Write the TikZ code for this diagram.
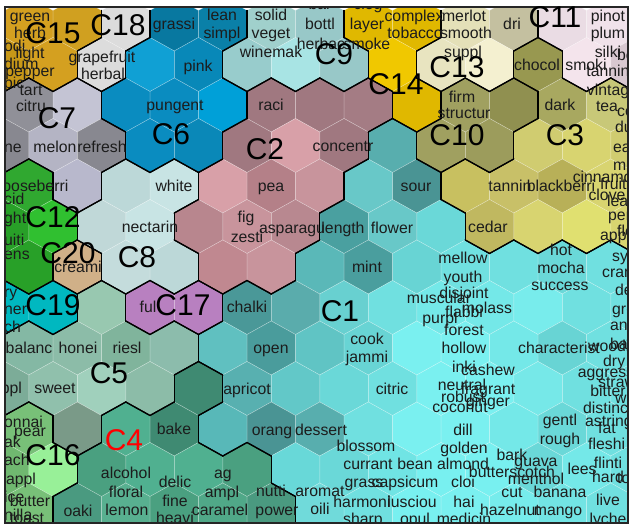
\documentclass[tikz,border=0pt]{standalone}
\usepackage{fontspec}
\setmainfont{Liberation Sans}
\newcommand\rowdef[3]{%
  \foreach \v [count=\k from 0] in {#2} {\expandafter\xdef\csname cl#1-\k\endcsname{\v}}%
  \foreach \v [count=\k from 0] in {#3} {\expandafter\xdef\csname hc#1-\k\endcsname{\v}}%
}
\rowdef{0}{15,15,15,18,6,6,9,9,14,14,13,13,11,11}{D0A020,D4A020,D0A020,DCDCDC,0878A0,0A80A8,A0D0CC,98C8C8,E0B800,E0B800,E4E0B8,C4C0A0,EADCE4,F0E2EA}
\rowdef{1}{15,15,18,6,6,9,9,9,14,13,13,3,11,11}{C89818,D4A020,DCDCDC,10A0D4,0888B8,98CCCC,A8E4E4,98C8C8,F0C800,E8E4C0,F4F0D0,989850,F4E4EC,D8C8D0}
\rowdef{2}{7,7,7,6,6,6,2,2,2,14,10,10,3,3}{909098,909098,C4C4D4,0A8CC0,0A8CC0,00A0D8,A07880,A07880,A47C84,E0B800,A0A060,909050,A8A860,C8C878}
\rowdef{3}{7,7,7,6,6,2,2,2,1,10,10,3,3,3}{888890,B4B4C4,888890,0A8CC0,0A88B8,A07880,D8A0A8,A07880,58AEAE,A0A060,9C9C5C,D0CC70,D8D470,D0CC70}
\rowdef{4}{12,12,7,8,8,2,2,2,1,1,3,3,3,3}{28A028,30A830,B8B8CC,BCD8D8,C8E4E4,D8A0A8,B48088,C8949C,68C8C8,4A9494,C8C060,C8C068,B8B058,D8D470}
\rowdef{5}{12,12,8,8,2,2,2,1,1,1,3,3,3,3}{28A028,30C030,C0D8D8,C8E4E4,B8868E,C8949C,B88890,4AA0A0,68C8C8,6AD8D8,C0B860,D8D470,E0E070,D8D470}
\rowdef{6}{12,12,20,8,8,2,2,1,1,1,1,1,1,1}{28A028,28A028,D0B088,C4DCDC,BCD8D8,C08890,C8949C,5AB8B8,4A9E9E,68D4D4,70E0E0,70E0E0,6AD8D8,70E0E0}
\rowdef{7}{19,19,5,17,17,1,1,1,1,1,1,1,1,1}{00B8C0,00B8C0,98C8B0,B880C0,B880C0,4A9898,5AACAC,68D0D0,70E0E0,74E8E8,74E8E8,78ECEC,70E0E0,70E0E0}
\rowdef{8}{5,5,5,5,5,1,1,1,1,1,1,1,1,1}{80B4A0,84B8A4,8CBCA8,80B49C,8CBCAC,60C0C0,4A9C9C,60C4C4,68D4D4,7AF0F0,7AF0F0,74E8E8,68D4D4,70E0E0}
\rowdef{9}{5,5,5,5,4,1,1,1,1,1,1,1,1,1}{7CAC98,90C0AC,A0D0BC,8CBCA8,3F8A72,58B0B0,62C8C8,6AD8D8,70E0E0,7AF0F0,7AF0F0,76E8E8,70E0E0,70E0E0}
\rowdef{10}{16,16,5,4,4,1,1,1,1,1,1,1,1,1}{70B870,78C078,7A9A88,50B090,3F8A72,58B8B8,4A9494,58AEAE,70E0E0,7AF0F0,7AF0F0,74E8E8,6AD8D8,70E0E0}
\rowdef{11}{16,16,4,4,4,4,1,1,1,1,1,1,1,1}{70B870,98F098,4AA080,50B090,50B090,4AA080,68D8D8,6AD8D8,70E4E4,78F0F0,78F0F0,6AD8D8,74E8E8,70E0E0}
\rowdef{12}{16,16,4,4,4,4,4,1,1,1,1,1,1,1}{70B870,78C078,4A9A80,58B090,4AA080,50A888,4A9A80,70DADA,70E0E0,78F0F0,7AF0F0,76ECEC,72E4E4,70E0E0}
\newcommand\chk[3]{%
  \ifcsname cl#1-#2\endcsname
    \edef\other{\csname cl#1-#2\endcsname}%
    \ifx\me\other\else\draw[border] #3;\fi
  \fi}
\newcounter{wc}
\newcommand\wrd[3]{\stepcounter{wc}\node[wtxt] (w\thewc) at (#1,#2) {#3};}
\newcommand\wrdl[3]{\stepcounter{wc}\node[wtxt,anchor=west] (w\thewc) at (#1,#2) {#3};}
\definecolor{txt}{HTML}{1C1C1C}
\begin{document}
\begin{tikzpicture}[x=1pt,y=-1pt,
  border/.style={line width=1.2pt,black,line cap=round,line join=round},
  thin/.style={line width=0.5pt,white,opacity=0.35},
  wtxt/.style={font=\fontsize{15.8}{18}\selectfont,inner sep=0pt,text height=11.4pt,text depth=0pt,text=txt},
  lab/.style={font=\fontsize{30}{32}\selectfont,inner sep=0pt,text height=21.5pt,text depth=0pt,text=black}]
\useasboundingbox (0,0) rectangle (630,526);
\fill[white] (0,0) rectangle (630,526);
\begin{scope}
\clip (5,7) rectangle (628,523);
\foreach \ri in {0,...,12} {
  \foreach \ci in {0,...,13} {
    \ifodd\ri \def\xo{4.5}\else\def\xo{-19.75}\fi
    \pgfmathsetmacro\xx{\xo+48.5*\ci}
    \pgfmathsetmacro\yy{24+40.5*\ri}
    \edef\tmpc{\csname hc\ri-\ci\endcsname}
    \definecolor{tmpc}{HTML}{\tmpc}
    \begin{scope}[shift={(\xx,\yy)}]
      \fill[tmpc] (0,-27) -- (24.25,-13.5) -- (24.25,13.5) -- (0,27) -- (-24.25,13.5) -- (-24.25,-13.5) -- cycle;
      \draw[thin] (0,-27) -- (24.25,-13.5) -- (24.25,13.5) -- (0,27) -- (-24.25,13.5) -- (-24.25,-13.5) -- cycle;
    \end{scope}
  }
}
\foreach \ri in {0,...,12} {
  \foreach \ci in {0,...,13} {
    \ifodd\ri \def\xo{4.5}\def\off{1}\else\def\xo{-19.75}\def\off{0}\fi
    \pgfmathsetmacro\xx{\xo+48.5*\ci}
    \pgfmathsetmacro\yy{24+40.5*\ri}
    \edef\me{\csname cl\ri-\ci\endcsname}
    \pgfmathtruncatemacro\cNE{\ci+\off}
    \pgfmathtruncatemacro\cNW{\ci+\off-1}
    \pgfmathtruncatemacro\ru{\ri-1}
    \pgfmathtruncatemacro\rd{\ri+1}
    \pgfmathtruncatemacro\cE{\ci+1}
    \pgfmathtruncatemacro\cW{\ci-1}
    \begin{scope}[shift={(\xx,\yy)}]
      \chk{\ri}{\cE}{(24.25,-13.5) -- (24.25,13.5)}
      \chk{\ri}{\cW}{(-24.25,-13.5) -- (-24.25,13.5)}
      \chk{\ru}{\cNE}{(0,-27) -- (24.25,-13.5)}
      \chk{\ru}{\cNW}{(0,-27) -- (-24.25,-13.5)}
      \chk{\rd}{\cNE}{(0,27) -- (24.25,13.5)}
      \chk{\rd}{\cNW}{(0,27) -- (-24.25,13.5)}
    \end{scope}
  }
}
% words
\wrd{30}{16}{green}
\wrd{30}{33}{herb}
\wrdl{4}{46}{odi}
\wrd{30}{53}{light}
\wrdl{4}{64}{dium}
\wrd{30}{71}{pepper}
\wrdl{4}{83}{pic}
\wrd{102}{57}{grapefruit}
\wrd{103}{74}{herbal}
\wrd{174}{24}{grassi}
\wrd{222}{15}{lean}
\wrd{222}{33}{simpl}
\wrd{198}{66}{pink}
\wrd{271}{15}{solid}
\wrd{271}{33}{veget}
\wrd{320}{4}{bar}
\wrd{320}{24}{bottl}
\wrd{368}{4}{clog}
\wrd{367}{24}{layer}
\wrd{414}{16}{complex}
\wrd{415}{33}{tobacco}
\wrd{464}{16}{merlot}
\wrd{466}{33}{smooth}
\wrd{512}{24}{dri}
\wrd{608}{16}{pinot}
\wrd{608}{33}{plum}
\wrd{271}{52}{winemak}
\wrd{321}{44}{herbac}
\wrd{367}{44}{smoke}
\wrd{463}{52}{suppl}
\wrd{537}{65}{chocol}
\wrd{586}{65}{smoki}
\wrd{608}{52}{silki}
\wrd{608}{71}{tannin}
\wrdl{617}{55}{be}
\wrd{271}{105}{raci}
\wrd{175}{105}{pungent}
\wrd{462}{97}{firm}
\wrd{464}{113}{structur}
\wrd{560}{105}{dark}
\wrd{608}{90}{vintag}
\wrd{607}{106}{tea}
\wrdl{617}{111}{co}
\wrd{31}{90}{tart}
\wrd{31}{106}{citru}
\wrdl{4}{147}{ne}
\wrd{55}{147}{melon}
\wrd{102}{147}{refresh}
\wrd{343}{146}{concentr}
\wrdl{615}{127}{du}
\wrdl{613}{147}{ea}
\wrdl{613}{165}{me}
\wrd{31}{186}{gooseberri}
\wrdl{4}{199}{cid}
\wrdl{4}{218}{ght}
\wrdl{4}{240}{uiti}
\wrdl{4}{254}{ens}
\wrd{174}{186}{white}
\wrd{271}{186}{pea}
\wrd{416}{186}{sour}
\wrd{510}{186}{tannin}
\wrd{561}{186}{blackberri}
\wrd{607}{177}{cinnamon}
\wrd{607}{195}{clove}
\wrdl{600}{184}{fruit}
\wrdl{607}{201}{lea}
\wrd{150}{227}{nectarin}
\wrd{246}{217}{fig}
\wrd{247}{237}{zesti}
\wrd{292}{228}{asparagu}
\wrd{343}{228}{length}
\wrd{392}{228}{flower}
\wrd{488}{227}{cedar}
\wrdl{608}{215}{per}
\wrdl{600}{235}{appr}
\wrdl{617}{231}{fle}
\wrdl{612}{256}{sy}
\wrd{78}{267}{creami}
\wrd{367}{267}{mint}
\wrd{463}{258}{mellow}
\wrd{463}{277}{youth}
\wrd{561}{250}{hot}
\wrd{561}{268}{mocha}
\wrd{560}{285}{success}
\wrdl{602}{272}{cran}
\wrdl{615}{290}{de}
\wrdl{4}{292}{ry}
\wrdl{4}{309}{ner}
\wrdl{4}{327}{ch}
\wrd{148}{307}{ful}
\wrd{247}{307}{chalki}
\wrd{439}{298}{muscular}
\wrd{464}{293}{disjoint}
\wrd{487}{308}{molass}
\wrd{464}{312}{flabbi}
\wrd{440}{318}{purpl}
\wrd{464}{330}{forest}
\wrdl{612}{309}{gro}
\wrdl{610}{325}{an}
\wrdl{610}{344}{bas}
\wrd{29}{348}{balanc}
\wrd{78}{348}{honei}
\wrd{127}{348}{riesl}
\wrd{271}{348}{open}
\wrd{367}{339}{cook}
\wrd{367}{357}{jammi}
\wrd{464}{348}{hollow}
\wrd{559}{348}{characterist}
\wrdl{588}{346}{woodi}
\wrd{7}{388}{appl}
\wrd{55}{388}{sweet}
\wrd{247}{389}{apricot}
\wrd{392}{389}{citric}
\wrd{464}{367}{inki}
\wrd{488}{370}{cashew}
\wrd{462}{385}{neutral}
\wrd{488}{389}{fragrant}
\wrd{463}{397}{robust}
\wrd{460}{407}{coconut}
\wrd{488}{401}{ginger}
\wrdl{603}{361}{dry}
\wrd{606}{372}{aggress}
\wrdl{598}{382}{straw}
\wrd{608}{391}{bitter}
\wrdl{615}{398}{wood}
\wrdl{583}{408}{distinct}
\wrdl{4}{422}{onnai}
\wrd{30}{431}{pear}
\wrdl{4}{442}{ak}
\wrd{174}{429}{bake}
\wrd{272}{430}{orang}
\wrd{321}{430}{dessert}
\wrd{463}{430}{dill}
\wrd{560}{420}{gentl}
\wrdl{585}{421}{astring}
\wrd{607}{428}{fat}
\wrd{560}{439}{rough}
\wrdl{588}{444}{fleshi}
\wrd{366}{446}{blossom}
\wrd{464}{448}{golden}
\wrd{512}{455}{bark}
\wrd{536}{461}{guava}
\wrd{368}{464}{currant}
\wrd{415}{464}{bean}
\wrd{463}{464}{almond}
\wrd{582}{469}{lees}
\wrd{608}{463}{flinti}
\wrdl{4}{460}{ach}
\wrd{126}{473}{alcohol}
\wrd{223}{473}{ag}
\wrd{512}{472}{butterscotch}
\wrd{536}{479}{menthol}
\wrd{608}{477}{hard}
\wrdl{617}{478}{tom}
\wrd{364}{482}{grass}
\wrd{405}{482}{capsicum}
\wrd{463}{482}{cloi}
\wrd{175}{482}{delic}
\wrd{126}{492}{floral}
\wrd{222}{492}{ampl}
\wrd{271}{491}{nutti}
\wrd{320}{491}{aromat}
\wrd{512}{492}{cut}
\wrd{560}{492}{banana}
\wrd{21}{479}{appl}
\wrdl{4}{497}{ice}
\wrd{30}{501}{butter}
\wrd{175}{501}{fine}
\wrd{362}{502}{harmoni}
\wrd{412}{502}{lusciou}
\wrd{464}{502}{hai}
\wrd{608}{500}{live}
\wrdl{4}{515}{nilla}
\wrd{27}{518}{toast}
\wrd{78}{511}{oaki}
\wrd{127}{510}{lemon}
\wrd{220}{510}{caramel}
\wrd{277}{510}{power}
\wrd{320}{509}{oili}
\wrd{510}{510}{hazelnut}
\wrd{558}{510}{mango}
\wrd{175}{518}{heavi}
\wrd{363}{519}{sharp}
\wrd{415}{519}{opul}
\wrd{464}{519}{medicin}
\wrd{608}{519}{lyche}
\end{scope}
\draw[line width=1.2pt,black!85] (5,7) rectangle (628,523);
% cluster labels
\node[lab] (C15) at (53,33) {C15};
\node[lab] (C18) at (118,25) {C18};
\node[lab] (C7) at (57,118) {C7};
\node[lab] (C6) at (171,134) {C6};
\node[lab] (C9) at (334,54) {C9};
\node[lab] (C14) at (396,84) {C14};
\node[lab] (C13) at (457,67) {C13};
\node[lab] (C11) at (555,17) {C11};
\node[lab] (C10) at (457,135) {C10};
\node[lab] (C3) at (565,135) {C3};
\node[lab] (C2) at (265,149) {C2};
\node[lab] (C12) at (53,217) {C12};
\node[lab] (C20) at (68,253) {C20};
\node[lab] (C8) at (137,257) {C8};
\node[lab] (C19) at (53,305) {C19};
\node[lab] (C17) at (183,305) {C17};
\node[lab] (C1) at (340,311) {C1};
\node[lab] (C5) at (109,373) {C5};
\node[lab,text=red] (C4) at (124,440) {C4};
\node[lab] (C16) at (53,455) {C16};
\end{tikzpicture}
\end{document}
